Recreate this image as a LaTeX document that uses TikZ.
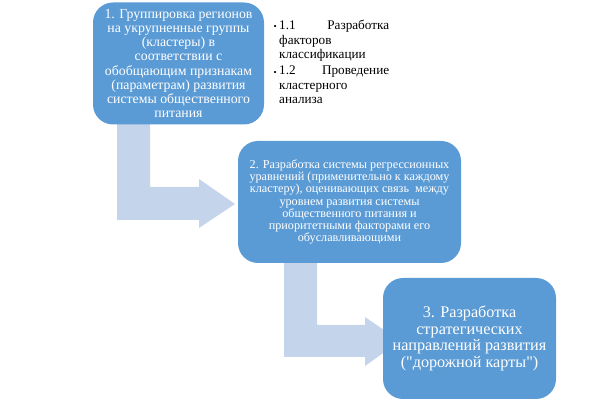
\documentclass[tikz,border=0pt]{standalone}
\usepackage{fontspec}
\setmainfont{Liberation Serif}
\newcommand\straightquote{\XeTeXglyph\XeTeXcharglyph"22\relax}
\definecolor{boxblue}{RGB}{91,155,213}
\definecolor{arrowblue}{RGB}{196,212,234}
\tikzset{
  stage/.style={fill=boxblue, draw=none, rounded corners=20pt, text=white, align=center, inner sep=0pt},
  blockarrow/.style={fill=arrowblue, draw=none},
  subitem/.style={anchor=north west, inner sep=0pt, text width=110pt, align=justify,
      font=\fontsize{13.2}{14.5}\selectfont},
  bulletmark/.style={anchor=east, inner sep=0pt, font=\fontsize{9}{9}\selectfont}
}
\begin{document}
\begin{tikzpicture}[x=1pt,y=-1pt]
\useasboundingbox (0,0) rectangle (614,414);
% block arrows
\fill[blockarrow] (117,120) -- (150,120) -- (150,187) -- (199,187) -- (199,179) -- (235,204) -- (199,228) -- (199,220) -- (117,220) -- cycle;
\fill[blockarrow] (284,258) -- (317,258) -- (317,325) -- (365,325) -- (365,317) -- (400,341) -- (365,366) -- (365,357) -- (284,357) -- cycle;
% stage boxes
\node[stage, minimum width=171pt, minimum height=122pt,
      font=\fontsize{13.8}{14.2}\selectfont] (s1) at (178.5,63.5)
  {1. Группировка регионов\\ на укрупненные группы\\ (кластеры) в\\ соответствии с\\ обобщающим признакам\\ (параметрам) развития\\ системы общественного\\ питания};
\node[stage, minimum width=223pt, minimum height=122pt,
      font=\fontsize{12.2}{12.3}\selectfont] (s2) at (349.5,202)
  {2. Разработка системы регрессионных\\ уравнений (применительно к каждому\\ кластеру), оценивающих связь\ \ между\\ уровнем развития системы\\ общественного питания и\\ приоритетными факторами его\\ обуславливающими};
\node[stage, minimum width=173pt, minimum height=121pt,
      font=\fontsize{16.2}{16.5}\selectfont] (s3) at (469.5,338.5)
  {3. Разработка\\ стратегических\\ направлений развития\\ (\straightquote дорожной карты\straightquote)};
% sub-items
\node[subitem] (sub1) at (279,20)
  {1.1\hfill Разработка\\ факторов\\ классификации};
\node[subitem] (sub2) at (279,66)
  {1.2\hfill Проведение\\ кластерного\\ анализа};
\node[bulletmark] (b1) at (sub1.north west) [yshift=-7pt, xshift=-2pt] {•};
\node[bulletmark] (b2) at (sub2.north west) [yshift=-7pt, xshift=-2pt] {•};
\end{tikzpicture}
\end{document}
